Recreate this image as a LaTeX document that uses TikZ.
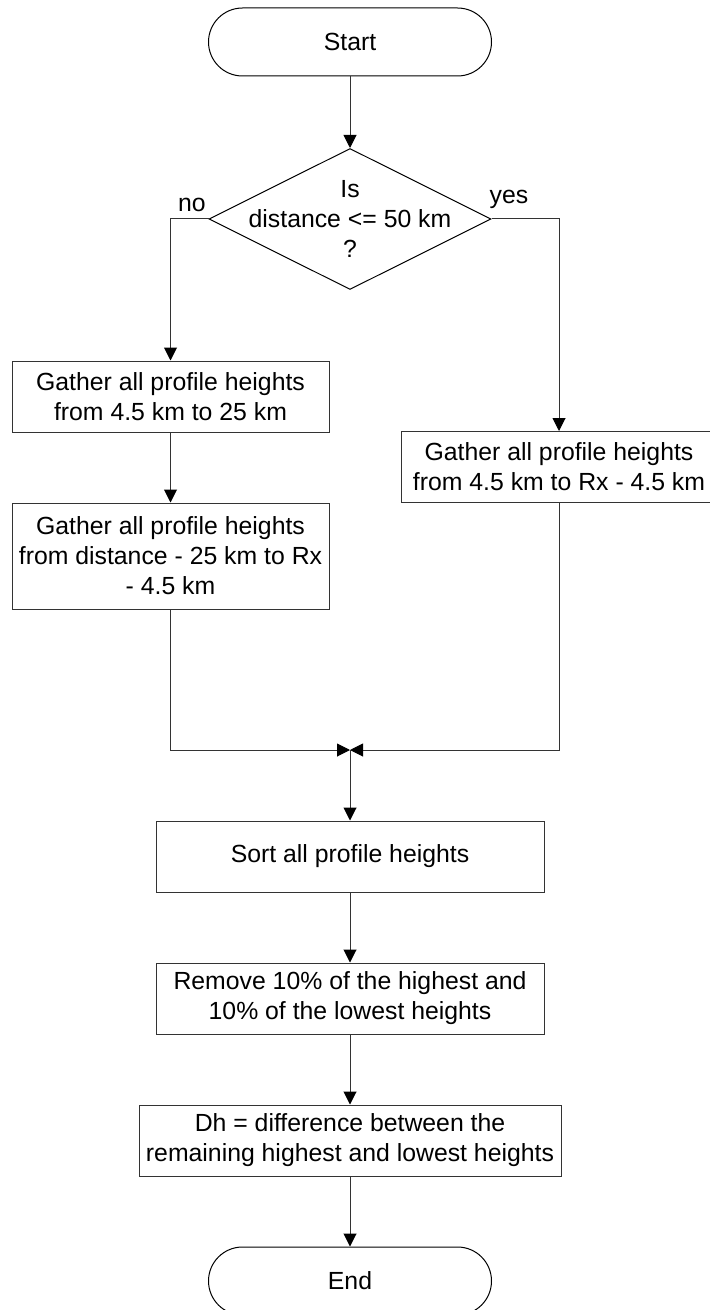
\documentclass[tikz,border=0pt]{standalone}
\usepackage{fontspec}
\setmainfont{Liberation Sans}
\usepackage{tikz}
\usetikzlibrary{arrows.meta}
\usetikzlibrary{shapes.geometric}
\tikzset{term/.style={draw,rounded corners=17pt,minimum width=141.5pt,minimum height=34pt,inner sep=0pt,line width=0.5pt},
         box/.style={draw,black!80,text=black,minimum height=35.5pt,inner sep=0pt,align=center,line width=0.5pt},
         dec/.style={draw,diamond,minimum width=141pt,minimum height=70.5pt,inner sep=0pt,line width=0.5pt},
         arr/.style={line width=0.5pt,black!80,-{Triangle[length=6.5pt,width=6.5pt,black]}},
         ln/.style={line width=0.5pt,black!80}
         }
\begin{document}
\begin{tikzpicture}[x=0.5pt,y=-0.5pt,font=\fontsize{12.4pt}{15pt}\selectfont]
        \clip (0,0) rectangle (710,1310);
        \node[term] (S) at (350,42) {Start};
        \node[dec] (D) at (350,219) {};
        \node[align=center,inner sep=0pt] (DT) at (350,219) {Is\\distance <= 50 km\\?};
        \node (no) at (192,205) {no};
        \node (yes) at (509,199) {yes};
        \node[box,minimum width=158.5pt] (G1) at (170.5,396.5) {Gather all profile heights\\from 4.5 km to 25 km};
        \node[box,minimum width=158.5pt,minimum height=53pt] (G2) at (170.5,556) {Gather all profile heights\\from distance - 25 km to Rx\\- 4.5 km};
        \node[box,minimum width=158pt] (G3) at (559,467) {Gather all profile heights\\from 4.5 km to Rx - 4.5 km};
        \coordinate (M) at (350,750);
        \node[box,minimum width=194pt] (So) at (350,856.5) {Sort all profile heights};
        \node[box,minimum width=194pt] (R) at (350,998.5) {Remove 10\% of the highest and\\10\% of the lowest heights};
        \node[box,minimum width=211pt] (Dh) at (350,1140.5) {Dh = difference between the\\remaining highest and lowest heights};
        \node[term] (E) at (350,1281) {End};

        \draw[arr] (S) -- (D);
        \draw[arr] (D.west) -| (G1.north);
        \draw[arr] (D.east) -| (G3.north);
        \draw[arr] (G1) -- (G2);
        \draw[arr] (G2.south) |- (M);
        \draw[arr] (G3.south) |- (M);
        \draw[arr] (M) -- (So.north);
        \draw[arr] (So) -- (R);
        \draw[arr] (R) -- (Dh);
        \draw[arr] (Dh) -- (E);
\end{tikzpicture}
\end{document}
